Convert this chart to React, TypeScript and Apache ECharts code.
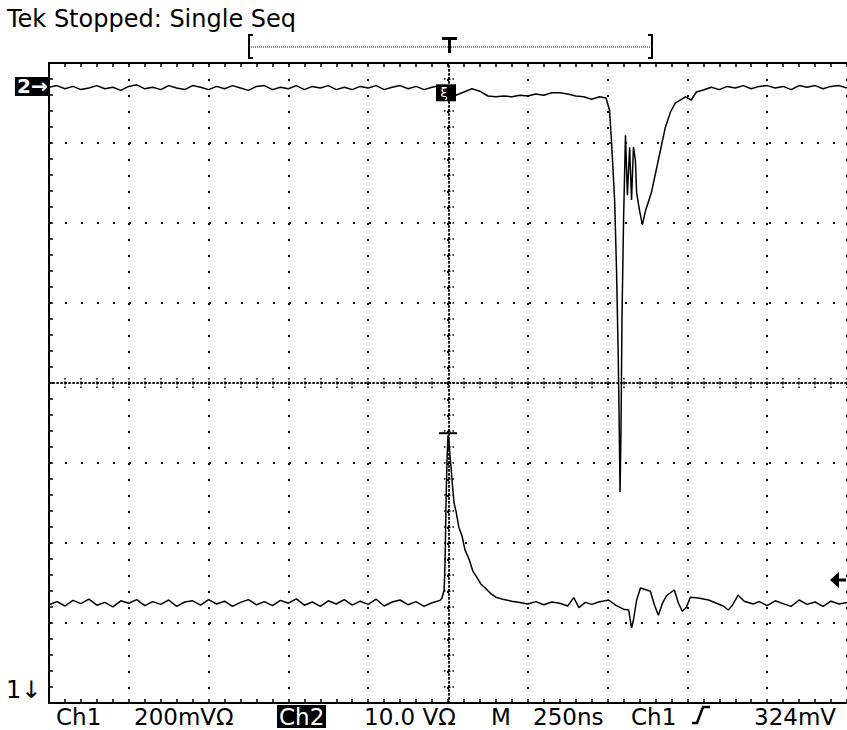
import React, { useEffect, useRef } from 'react';
import * as echarts from 'echarts';

// ---- Data (time in ns relative to trigger) ----
const timeMinNs = -1250;
const timeMaxNs = 1250;
const timePerDivNs = 250;
const divMin = -4;
const divMax = 4;

// Ch1: 200 mV/div, ground just below screen
const ch1MinMv = 16.5;
const ch1MaxMv = 1616.5;
// Ch2: 10 V/div, ground at the "2→" marker
const ch2MinV = -76.875;
const ch2MaxV = 3.125;

const triggerLevelMv = 324;
const ch1PeakMv = 691;
const ch2TriggerMarkV = -0.6;

const headerText = 'Tek Stopped: Single Seq';
const bottomLabels = ['Ch1', '200mVΩ', 'Ch2', '10.0 VΩ', 'M', '250ns', 'Ch1', '324mV'];

// Ch2 trace [ns, V]
const ch2Trace: [number, number][] = [
  [-1250, 0.1], [-1225, 0.3], [-1200, -0.1], [-1175, 0.2], [-1150, -0.2], [-1125, 0.0], [-1100, 0.3],
  [-1075, -0.1], [-1050, 0.1], [-1025, -0.3], [-1000, 0.2], [-975, 0.4], [-950, -0.1], [-925, 0.1],
  [-900, -0.2], [-875, 0.3], [-850, 0.0], [-825, -0.2], [-800, 0.3], [-775, 0.1], [-750, -0.2],
  [-725, 0.2], [-700, -0.1], [-675, 0.3], [-650, 0.0], [-625, -0.3], [-600, 0.2], [-575, 0.3],
  [-550, -0.2], [-525, 0.1], [-500, -0.1], [-475, 0.3], [-450, -0.2], [-425, 0.2], [-400, 0.0],
  [-375, 0.3], [-350, -0.2], [-325, 0.1], [-300, -0.2], [-275, 0.2], [-250, 0.0], [-225, 0.3],
  [-200, -0.2], [-175, 0.1], [-150, 0.3], [-125, -0.1], [-100, 0.2], [-75, -0.2], [-50, 0.1],
  [-25, 0.3], [0, -0.2], [25, -0.9], [50, -0.5], [75, -0.1], [100, -0.4], [125, -1.0], [150, -1.1],
  [175, -1.0], [200, -1.1], [225, -0.9], [250, -1.0], [275, -0.75], [300, -0.9], [325, -0.6],
  [350, -0.6], [375, -0.75], [400, -1.0], [425, -1.1], [450, -1.4], [475, -1.1], [495, -1.25],
  [506, -2.75], [512, -6.5], [522, -14], [528, -22.8], [533, -32.8], [536, -40.9], [539, -50.5],
  [542, -42.8], [545, -29], [550, -16.5], [556, -5.9], [562, -13.4], [569, -7.4], [575, -14],
  [581, -7.4], [587, -9], [591, -13.1], [600, -15.3], [609, -17.1], [619, -15.3], [637, -13.1],
  [659, -9], [681, -4.9], [697, -3], [712, -1.9], [744, -1.1], [762, -1.5], [778, -0.5], [800, -0.25],
  [825, 0.1], [850, -0.2], [875, 0.2], [900, 0.0], [925, 0.3], [950, -0.1], [975, 0.2], [1000, 0.3],
  [1025, 0.0], [1050, 0.2], [1075, -0.2], [1100, 0.3], [1125, 0.1], [1150, 0.3], [1175, -0.1],
  [1200, 0.2], [1225, 0.3], [1250, 0.0],
];

// Ch1 trace [ns, mV]
const ch1Trace: [number, number][] = [
  [-1250, 262], [-1225, 270], [-1200, 259], [-1175, 273], [-1150, 265], [-1125, 276], [-1100, 261],
  [-1075, 268], [-1050, 257], [-1025, 272], [-1000, 266], [-975, 275], [-950, 260], [-925, 270],
  [-900, 263], [-875, 274], [-850, 258], [-825, 269], [-800, 272], [-775, 261], [-750, 275],
  [-725, 264], [-700, 271], [-675, 258], [-650, 268], [-625, 275], [-600, 262], [-575, 270],
  [-550, 260], [-525, 273], [-500, 266], [-475, 277], [-450, 261], [-425, 269], [-400, 258],
  [-375, 272], [-350, 264], [-325, 275], [-300, 261], [-275, 271], [-250, 263], [-225, 276],
  [-200, 259], [-175, 269], [-150, 274], [-125, 262], [-100, 270], [-75, 258], [-50, 267],
  [-25, 273], [-19, 279], [-12, 299], [-9, 374], [-6, 524], [-3, 624], [0, 686], [3, 674],
  [6, 636], [9, 611], [14, 561], [19, 516], [25, 496], [34, 456], [44, 434], [53, 400], [66, 376],
  [78, 346], [91, 330], [103, 314], [119, 302], [134, 290], [150, 281], [175, 275], [200, 271],
  [225, 268], [250, 264], [275, 270], [300, 262], [325, 269], [350, 266], [375, 259], [394, 280],
  [410, 255], [430, 268], [450, 263], [472, 269], [503, 274], [525, 261], [550, 251], [566, 249],
  [575, 204], [581, 224], [591, 274], [603, 304], [622, 299], [634, 296], [647, 261], [659, 236],
  [672, 266], [684, 284], [700, 294], [709, 299], [722, 266], [734, 246], [747, 256], [759, 281],
  [784, 279], [816, 274], [841, 266], [862, 259], [878, 249], [891, 261], [909, 286], [928, 271],
  [956, 264], [975, 270], [1000, 260], [1025, 272], [1050, 265], [1075, 258], [1100, 274],
  [1125, 263], [1150, 269], [1175, 258], [1200, 271], [1225, 264], [1250, 268],
];

const FONT = '"DejaVu Sans", Verdana, sans-serif';
const BLACK = '#000';

function borderAxis(position: string, withSplit: boolean) {
  return {
    type: 'value',
    position,
    axisLine: { show: true, onZero: false, lineStyle: { color: BLACK, width: 2 } },
    axisTick: { show: true, inside: true, length: 4, lineStyle: { color: BLACK, width: 1.5 } },
    minorTick: { show: true, splitNumber: 5, length: 4, lineStyle: { color: BLACK, width: 1.5 } },
    axisLabel: { show: false },
    splitLine: { show: withSplit, lineStyle: { color: BLACK, width: 2, type: [2, 14] } },
    minorSplitLine: { show: false },
  };
}

function centerAxis(position: string, offset: number, inside: boolean) {
  return {
    type: 'value',
    position,
    offset,
    axisLine: { show: true, onZero: false, lineStyle: { color: BLACK, width: 1.5, type: [1.2, 2.8] } },
    axisTick: { show: true, inside, length: 5, lineStyle: { color: BLACK, width: 1.5, type: [1.5, 2] } },
    minorTick: { show: true, splitNumber: 5, length: 5, lineStyle: { color: BLACK, width: 1.5, type: [1.5, 2] } },
    axisLabel: { show: false },
    splitLine: { show: false },
  };
}

function textEl(text: string, x: number, y: number, size: number, fill = BLACK, weight = 'normal') {
  return {
    type: 'text',
    x,
    y,
    silent: true,
    style: {
      text,
      fill,
      fontSize: size,
      fontFamily: FONT,
      fontWeight: weight,
      textAlign: 'left',
      textVerticalAlign: 'middle',
      align: 'left',
      verticalAlign: 'middle',
    },
  };
}

const bottomX = [56, 134, 279, 364, 491, 533, 631, 754];

export default function App() {
  const ref = useRef<HTMLDivElement>(null);
  useEffect(() => {
    if (!ref.current) return;
    const chart = echarts.init(ref.current, null, { renderer: 'svg' });

    const xRange = { min: timeMinNs, max: timeMaxNs, interval: timePerDivNs };
    const yRange = { min: divMin, max: divMax, interval: 1 };

    const graphics: any[] = [
      textEl(headerText, 7, 19, 24),
      // record window bar
      { type: 'polyline', silent: true, shape: { points: [[253, 35], [249, 35], [249, 58], [253, 58]] }, style: { stroke: BLACK, lineWidth: 2, fill: null } },
      { type: 'polyline', silent: true, shape: { points: [[648, 35], [652, 35], [652, 58], [648, 58]] }, style: { stroke: BLACK, lineWidth: 2, fill: null } },
      { type: 'line', silent: true, shape: { x1: 251, y1: 47, x2: 650, y2: 47 }, style: { stroke: BLACK, lineWidth: 1, lineDash: [1, 1] } },
      { type: 'rect', silent: true, shape: { x: 442, y: 37, width: 15, height: 3 }, style: { fill: BLACK } },
      { type: 'rect', silent: true, shape: { x: 448, y: 37, width: 3, height: 16 }, style: { fill: BLACK } },
      // ch2 ground marker
      { type: 'rect', silent: true, shape: { x: 15, y: 77, width: 34, height: 19 }, style: { fill: BLACK } },
      textEl('2→', 17, 86, 20, '#fff', 'bold'),
      // ch1 ground marker (below screen)
      textEl('1↓', 6, 690, 24),
      // bottom status line
      { type: 'rect', silent: true, shape: { x: 277, y: 705, width: 49, height: 23 }, style: { fill: BLACK } },
      ...bottomLabels.map((t, i) => textEl(t, bottomX[i], 717, 23, i === 2 ? '#fff' : BLACK)),
      { type: 'polyline', silent: true, shape: { points: [[692, 723], [697, 723], [703, 707], [710, 707]] }, style: { stroke: BLACK, lineWidth: 2.5, fill: null } },
    ];

    chart.setOption({
      animation: false,
      backgroundColor: '#fff',
      grid: { left: 49, top: 63, width: 800, height: 640, containLabel: false, show: false },
      xAxis: [
        { ...borderAxis('bottom', true), ...xRange },
        { ...borderAxis('top', false), ...xRange },
        { ...centerAxis('bottom', -320, true), ...xRange },
        { ...centerAxis('bottom', -320, false), ...xRange },
      ],
      yAxis: [
        { ...borderAxis('left', true), ...yRange },
        { ...centerAxis('left', -400, true), ...yRange },
        { ...centerAxis('left', -400, false), ...yRange },
        { type: 'value', show: false, min: ch2MinV, max: ch2MaxV, splitLine: { show: false } },
        { type: 'value', show: false, min: ch1MinMv, max: ch1MaxMv, splitLine: { show: false } },
      ],
      series: [
        {
          name: 'Ch2',
          type: 'line',
          xAxisIndex: 0,
          yAxisIndex: 3,
          data: ch2Trace,
          showSymbol: false,
          symbol: 'none',
          silent: true,
          lineStyle: { color: BLACK, width: 1.5 },
          markPoint: {
            silent: true,
            animation: false,
            data: [
              {
                coord: [0, ch2TriggerMarkV],
                symbol: 'rect',
                symbolSize: [20, 17],
                symbolOffset: [-2, 0],
                itemStyle: { color: BLACK },
                label: { show: true, formatter: 'ξ', color: '#fff', fontSize: 13, fontFamily: FONT, position: 'inside', offset: [-2, 0] },
              },
            ],
          },
        },
        {
          name: 'Ch1',
          type: 'line',
          xAxisIndex: 0,
          yAxisIndex: 4,
          data: ch1Trace,
          showSymbol: false,
          symbol: 'none',
          silent: true,
          lineStyle: { color: BLACK, width: 1.5 },
          markPoint: {
            silent: true,
            animation: false,
            data: [
              {
                coord: [0, ch1PeakMv],
                symbol: 'rect',
                symbolSize: [18, 2],
                itemStyle: { color: BLACK },
                label: { show: false },
              },
              {
                coord: [timeMaxNs, triggerLevelMv],
                symbol: 'path://M0,8 L9,0 L9,6.5 L16,6.5 L16,9.5 L9,9.5 L9,16 Z',
                symbolSize: [16, 16],
                symbolKeepAspect: false,
                symbolOffset: [-9, 0],
                itemStyle: { color: BLACK },
                label: { show: false },
              },
            ],
          },
        },
      ],
      graphic: { elements: graphics },
    });
    return () => chart.dispose();
  }, []);
  return (
    <div
      ref={ref}
      style={{ position: 'absolute', left: 0, top: 0, width: 847, height: 730, background: '#fff' }}
    />
  );
}
